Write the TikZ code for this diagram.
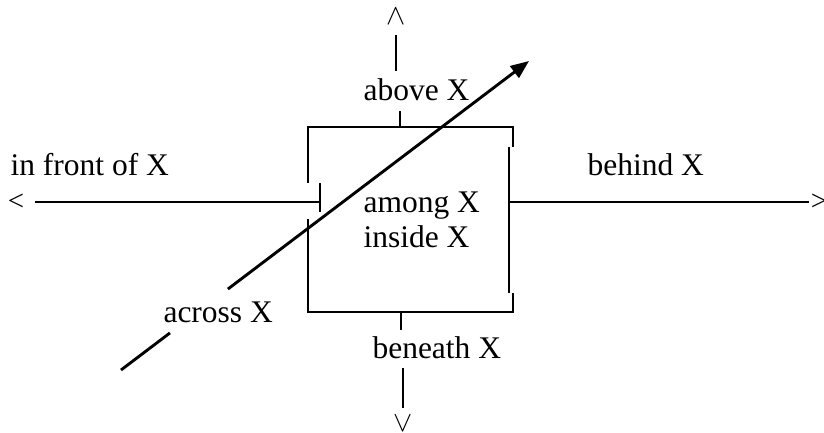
\documentclass[tikz,border=0pt]{standalone}
\usepackage{fontspec}
\setmainfont{Liberation Serif}
\usetikzlibrary{arrows.meta, positioning}

\begin{document}
\begin{tikzpicture}[
    x=0.381pt, y=-0.381pt,
    lbl/.style={font=\fontsize{12}{13}\selectfont, inner sep=0pt, anchor=base west, align=left},
    tipsym/.style={font=\fontsize{11}{13}\selectfont, inner sep=0pt},
    ln/.style={line width=1.1pt},
    ar/.style={-{Triangle[length=7pt, width=5.5pt]}, line width=1.1pt}
]
\useasboundingbox (0,0) rectangle (824,432);
% labels
\node[lbl] (front) at (10,175) {in front of X};
\node[lbl] (behind) at (587,175) {behind X};
\node[lbl] (abv) at (363,100) {above X};
\node[lbl] (inner) at (363,247) {among X\\inside X};
\node[lbl] (across) at (163,322) {across X};
\node[lbl] (below) at (372,358) {beneath X};
% direction marks
\node[tipsym] (up) at (396,17) {$\wedge$};
\node[tipsym] (down) at (403,424) {$\vee$};
\node[tipsym] (lt) at (16,202) {<};
\node[tipsym] (rt) at (819,202) {>};
% the box
\coordinate (btop) at (400,127);
\coordinate (bbot) at (401,312);
\coordinate (ltick) at (320,202);
\coordinate (rside) at (509,202);
\draw[ln] (513,147) -- (513,127) -- (308,127) -- (308,183);
\draw[ln] (308,219) -- (308,312) -- (513,312) -- (513,293);
\draw[ln] (509,147) -- (509,293);
\draw[ln] (320,183) -- (320,212);
% up and down
\draw[ln] (btop) -- ([yshift=-3.8pt]abv.south -| btop);
\draw[ln] ([yshift=-3.8pt]up.south) -- ([yshift=2.7pt]abv.north -| up.south);
\draw[ln] (bbot) -- ([yshift=2.3pt]below.north -| bbot);
\draw[ln] ([yshift=2.7pt]down.north) -- ([yshift=-3.4pt]below.south -| down.north);
% front and behind
\draw[ln] ([xshift=3.8pt]lt.east) -- (ltick);
\draw[ln] (rside) -- ([xshift=-0.5pt]rt.west);
% across
\coordinate (tail) at (121,370);
\coordinate (head) at (529,61);
\path (tail) -- coordinate[pos=0.12] (gapa) coordinate[pos=0.262] (gapb) (head);
\draw[ln] (tail) -- (gapa);
\draw[ar] (gapb) -- (head);
\end{tikzpicture}
\end{document}
